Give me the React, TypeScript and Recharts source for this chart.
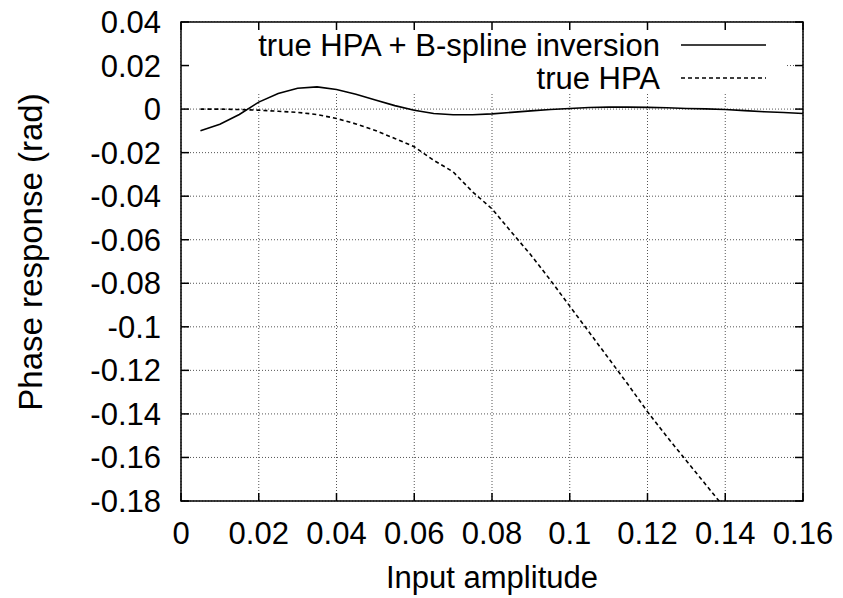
import { LineChart, Line, XAxis, YAxis, CartesianGrid, ReferenceArea, Legend } from 'recharts';

// input amplitude samples
const amplitude = [
  0.005, 0.01, 0.015, 0.02, 0.025, 0.03, 0.035, 0.04, 0.045, 0.05,
  0.055, 0.06, 0.065, 0.07, 0.075, 0.08, 0.085, 0.09, 0.095, 0.1,
  0.105, 0.11, 0.115, 0.12, 0.125, 0.13, 0.135, 0.14, 0.145, 0.15,
  0.155, 0.16,
];

// true HPA + B-spline inversion (rad)
const inversionPhase = [
  -0.01, -0.007, -0.0025, 0.0032, 0.0072, 0.0096, 0.0102, 0.009, 0.0068, 0.0042,
  0.0016, -0.0005, -0.002, -0.0026, -0.0026, -0.0022, -0.0015, -0.0008, -0.0002, 0.0003,
  0.0007, 0.0009, 0.0009, 0.0008, 0.0006, 0.0003, 0.0001, -0.0002, -0.0007, -0.0012,
  -0.0016, -0.002,
];

// true HPA (rad), runs off the bottom after 0.14
const hpaPhase = [
  0, 0, -0.0002, -0.0005, -0.001, -0.0015, -0.0025, -0.0043, -0.0068, -0.0098,
  -0.0135, -0.0173, -0.0235, -0.0288, -0.038, -0.0458, -0.0565, -0.067, -0.0785, -0.0905,
  -0.1025, -0.1145, -0.1265, -0.139, -0.1505, -0.1615, -0.1725, -0.1835,
];

const seriesNames = ['true HPA + B-spline inversion', 'true HPA'];
const xTicks = [0, 0.02, 0.04, 0.06, 0.08, 0.1, 0.12, 0.14, 0.16];
const yTicks = [-0.18, -0.16, -0.14, -0.12, -0.1, -0.08, -0.06, -0.04, -0.02, 0, 0.02, 0.04];
const xDomain = [0, 0.16];
const yDomain = [-0.18, 0.04];

const data = amplitude.map((x, i) => ({
  x,
  inv: inversionPhase[i],
  hpa: i < hpaPhase.length ? hpaPhase[i] : null,
}));

const FONT = '"Liberation Sans", Arial, Helvetica, sans-serif';
const TICK = 8;
// plot box from the chart margins / axis sizes below
const PLOT = { left: 181, top: 22, right: 803, bottom: 501 };
const fmt = (v: number) => String(Number(v.toFixed(2)));
const px = (v: number) => PLOT.left + ((v - xDomain[0]) / (xDomain[1] - xDomain[0])) * (PLOT.right - PLOT.left);
const py = (v: number) => PLOT.bottom - ((v - yDomain[0]) / (yDomain[1] - yDomain[0])) * (PLOT.bottom - PLOT.top);

const BottomTick = ({ x, y, payload }: any) => (
  <text x={x} y={y + 22} textAnchor="middle" fontSize={31} fill="#000" fontFamily={FONT}>
    {fmt(payload.value)}
  </text>
);

const LeftTick = ({ x, y, payload }: any) => (
  <text x={x} y={y + 11} textAnchor="end" fontSize={31} fill="#000" fontFamily={FONT}>
    {fmt(payload.value)}
  </text>
);

// key + gnuplot border with inward ticks, drawn as an overlay
const Overlay = ({ payload }: any) => {
  const items = [...(payload || [])].sort(
    (a: any, b: any) => seriesNames.indexOf(a.value) - seriesNames.indexOf(b.value)
  );
  return (
    <svg width={843} height={598} style={{ display: 'block' }}>
      <rect
        x={PLOT.left}
        y={PLOT.top}
        width={PLOT.right - PLOT.left}
        height={PLOT.bottom - PLOT.top}
        fill="none"
        stroke="#000"
        strokeWidth={1.5}
      />
      {xTicks.map((t) => (
        <g key={`x${t}`}>
          <line x1={px(t)} x2={px(t)} y1={PLOT.bottom} y2={PLOT.bottom - TICK} stroke="#000" strokeWidth={1.5} />
          <line x1={px(t)} x2={px(t)} y1={PLOT.top} y2={PLOT.top + TICK} stroke="#000" strokeWidth={1.5} />
        </g>
      ))}
      {yTicks.map((t) => (
        <g key={`y${t}`}>
          <line x1={PLOT.left} x2={PLOT.left + TICK} y1={py(t)} y2={py(t)} stroke="#000" strokeWidth={1.5} />
          <line x1={PLOT.right} x2={PLOT.right - TICK} y1={py(t)} y2={py(t)} stroke="#000" strokeWidth={1.5} />
        </g>
      ))}
      {items.map((entry: any, i: number) => (
        <g key={entry.value}>
          <text x={660} y={56 + i * 33} textAnchor="end" fontSize={31} fill="#000" fontFamily={FONT}>
            {entry.value}
          </text>
          <line
            x1={681}
            x2={766}
            y1={45 + i * 33}
            y2={45 + i * 33}
            stroke="#000"
            strokeWidth={1.6}
            strokeDasharray={entry.payload?.strokeDasharray}
          />
        </g>
      ))}
    </svg>
  );
};

const XLabel = () => (
  <text x={492} y={588} textAnchor="middle" fontSize={31} fill="#000" fontFamily={FONT}>
    Input amplitude
  </text>
);

const YLabel = () => (
  <text
    transform="translate(42, 252) rotate(-90)"
    textAnchor="middle"
    fontSize={33}
    fill="#000"
    fontFamily={FONT}
  >
    Phase response (rad)
  </text>
);

export default function App() {
  return (
    <div style={{ position: 'absolute', left: 0, top: 0, width: 843, height: 598 }}>
      <LineChart width={843} height={598} data={data} margin={{ top: 22, right: 40, bottom: 0, left: 0 }}>
        <CartesianGrid stroke="#555" strokeDasharray="1 2" />
        <XAxis
          dataKey="x"
          type="number"
          domain={xDomain}
          ticks={xTicks}
          interval={0}
          height={97}
          tick={<BottomTick />}
          tickMargin={15}
          axisLine={false}
          tickLine={false}
          label={<XLabel />}
        />
        <YAxis
          type="number"
          domain={yDomain}
          ticks={yTicks}
          interval={0}
          width={181}
          tick={<LeftTick />}
          tickMargin={14}
          axisLine={false}
          tickLine={false}
          label={<YLabel />}
          allowDataOverflow
        />
        {/* opaque key box hides the grid behind the legend */}
        <ReferenceArea x1={0} x2={0.1554} y1={0.0074} y2={0.04} fill="#fff" fillOpacity={1} strokeWidth={0} />
        <Line
          type="linear"
          dataKey="inv"
          name={seriesNames[0]}
          stroke="#000"
          strokeWidth={1.6}
          dot={false}
          activeDot={false}
          isAnimationActive={false}
        />
        <Line
          type="linear"
          dataKey="hpa"
          name={seriesNames[1]}
          stroke="#000"
          strokeWidth={1.6}
          strokeDasharray="4 3"
          dot={false}
          activeDot={false}
          isAnimationActive={false}
        />
        <Legend
          layout="vertical"
          align="center"
          verticalAlign="middle"
          content={<Overlay />}
          wrapperStyle={{ position: 'absolute', left: 0, top: 0, width: 843, height: 598, pointerEvents: 'none' }}
        />
      </LineChart>
    </div>
  );
}
